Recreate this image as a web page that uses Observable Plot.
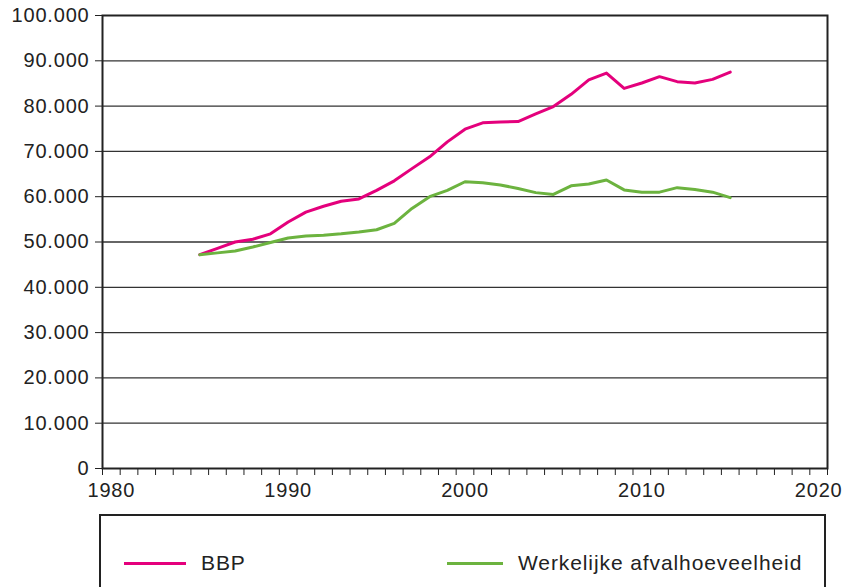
<!DOCTYPE html>
<html>
<head>
<meta charset="utf-8">
<script src="https://cdn.jsdelivr.net/npm/d3@7"></script>
<script src="https://cdn.jsdelivr.net/npm/@observablehq/plot@0.6"></script>
<style>
  html, body { margin: 0; padding: 0; background: #fff; }
  body { width: 853px; height: 587px; position: relative; overflow: hidden; font-family: "Liberation Sans", Arial, sans-serif; }
  #chart { position: absolute; left: 0; top: 0; }
  #legend { position: absolute; left: 99px; top: 514px; width: 727px; height: 120px; border: 2px solid #222; box-sizing: border-box; }
  .item { position: absolute; top: 35px; display: flex; align-items: center; font-size: 21px; letter-spacing: 0.9px; color: #222; }
  .swatch { display: inline-block; height: 3px; margin-right: 15px; }
</style>
</head>
<body>
<div id="chart"></div>
<div id="legend">
  <div class="item" style="left:23px"><span class="swatch" style="width:62px;background:#e4007c"></span><span>BBP</span></div>
  <div class="item" style="left:346px"><span class="swatch" style="width:56px;background:#6cb33f"></span><span>Werkelijke afvalhoeveelheid</span></div>
</div>
<script>
const years = [1985,1986,1987,1988,1989,1990,1991,1992,1993,1994,1995,1996,1997,1998,1999,2000,2001,2002,2003,2004,2005,2006,2007,2008,2009,2010,2011,2012,2013,2014,2015];
const bbp = [47200,48600,50000,50600,51800,54400,56600,57900,59000,59500,61400,63500,66200,68800,72100,74900,76300,76500,76600,78300,79900,82600,85800,87300,83900,85100,86500,85400,85100,85900,87500];
const afval = [47200,47600,48000,48900,49900,50900,51300,51500,51800,52200,52700,54100,57400,60000,61400,63300,63100,62600,61800,60900,60500,62400,62800,63700,61500,61000,61000,62000,61600,61000,59800];
const seriesNames = ["BBP", "Werkelijke afvalhoeveelheid"];
const seriesColors = ["#e4007c", "#6cb33f"];
const yTicks = [0,10000,20000,30000,40000,50000,60000,70000,80000,90000,100000];
const xLabelTicks = [1980,1990,2000,2010,2020];

const data = [
  ...years.map((y, i) => ({year: y, value: bbp[i], series: seriesNames[0]})),
  ...years.map((y, i) => ({year: y, value: afval[i], series: seriesNames[1]}))
];

const nl = d3.formatLocale({decimal: ",", thousands: ".", grouping: [3], currency: ["", ""]});
const fmt = nl.format(",");
const yearBounds = d3.range(1979.5, 2021, 1);

const chart = Plot.plot({
  width: 853,
  height: 505,
  marginLeft: 102,
  marginRight: 26,
  marginTop: 15,
  marginBottom: 37,
  style: {fontFamily: '"Liberation Sans", Arial, sans-serif', fontSize: "20px", letterSpacing: "0.8px", color: "#222", background: "white"},
  x: {domain: [1979.5, 2020.5]},
  y: {domain: [0, 100000]},
  color: {domain: seriesNames, range: seriesColors},
  marks: [
    Plot.gridY(yTicks.filter(d => d > 0 && d < 100000), {stroke: "#333", strokeOpacity: 1, strokeWidth: 1.3}),
    Plot.line(data, {x: "year", y: "value", stroke: "series", z: "series", strokeWidth: 3, curve: "linear"}),
    Plot.frame({stroke: "#222", strokeWidth: 2}),
    Plot.axisY({ticks: yTicks, tickFormat: fmt, tickSize: 7, tickPadding: 6, label: null, fontSize: 20, stroke: "#222"}),
    Plot.axisX({ticks: yearBounds, tickFormat: () => "", tickSize: 7, label: null, stroke: "#222"}),
    Plot.axisX({ticks: xLabelTicks, tickFormat: d => String(d), tickSize: 0, tickPadding: 14, label: null, fontSize: 20})
  ]
});
document.getElementById("chart").appendChild(chart);
</script>
</body>
</html>
